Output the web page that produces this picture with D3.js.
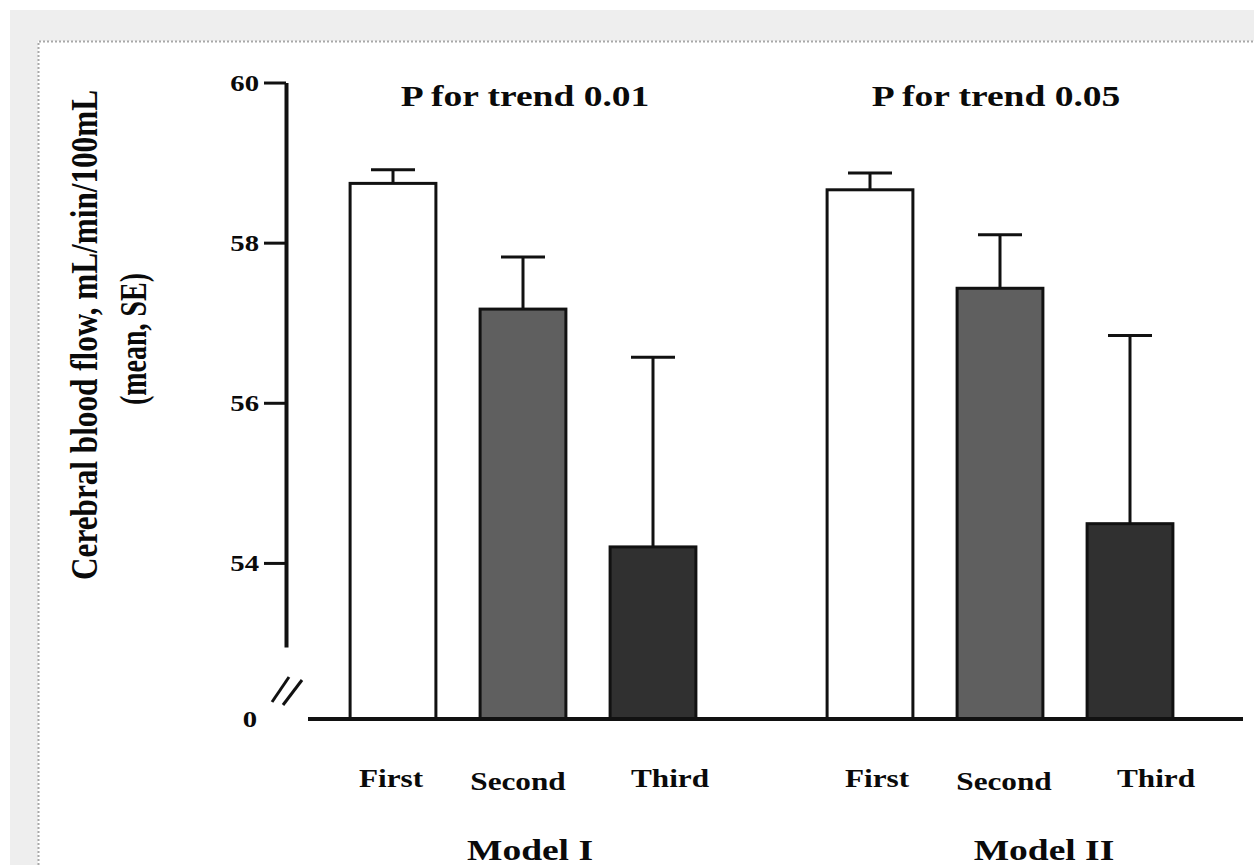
<!DOCTYPE html>
<html>
<head>
<meta charset="utf-8">
<script src="https://cdn.jsdelivr.net/npm/d3@7"></script>
<style>
    body { margin: 0; background: #fff; }
    svg { display: block; }
    text { font-family: 'Liberation Serif', 'Times New Roman', serif; font-weight: bold; fill: #0a0a0a; }
</style>
</head>
<body>
<svg></svg>
<script>
/** Chart values */
const models = ['Model I', 'Model II'];
const tiers = ['First', 'Second', 'Third'];
const meanModel1 = [58.74, 57.17, 54.20];
const seModel1 = [0.17, 0.65, 2.37];
const meanModel2 = [58.66, 57.43, 54.49];
const seModel2 = [0.21, 0.67, 2.35];
const trendLabels = ['P for trend 0.01', 'P for trend 0.05'];
const yTicks = [54, 56, 58, 60];
const yTitle = ['Cerebral blood flow, mL/min/100mL', '(mean, SE)'];

let width = 1254;
let height = 865;
let axisX = 286;   // y axis line
let baseY = 719;   // broken baseline ("0")
let stretch = 1.25; // the source image is widened horizontally

const tierFill = ['#ffffff', '#5f5f5f', '#303030'];

let svg = d3.select('svg').attr('width', width).attr('height', height);

/** Grey page + dotted panel */
const drawBackdrop = () => {
    svg.append('rect').attr('x', 10).attr('y', 10)
        .attr('width', width).attr('height', height).attr('fill', '#eeeeee');
    svg.append('rect').attr('x', 38).attr('y', 41)
        .attr('width', width).attr('height', height).attr('fill', '#ffffff');
    svg.append('path')
        .attr('d', `M38.5,${height}V41.5H${width}`)
        .attr('fill', 'none')
        .attr('stroke', '#a8a8a8')
        .attr('stroke-width', 2)
        .attr('stroke-dasharray', '2,2');
};

/** Scales */
let yScale = d3.scaleLinear().domain([52.95, 60]).range([647, 82.5]);
let xModel = d3.scalePoint().domain(models).range([523, 1000]);
let xTier = d3.scaleBand().domain(tiers).range([-195, 195])
                .paddingInner(0.34).paddingOuter(0.17);

const meanSets = [meanModel1, meanModel2];
const seSets = [seModel1, seModel2];
const rows = models.flatMap((m, i) => tiers.map((t, j) => ({
    model: m, tier: t, mean: meanSets[i][j], se: seSets[i][j], fill: tierFill[j]
})));

/** Bars + SE whiskers */
const drawBars = () => {
    let bw = xTier.bandwidth();

    svg.selectAll('rect.bar')
        .data(rows)
        .enter()
        .append('rect')
        .attr('class', 'bar')
        .attr('x', d => xModel(d.model) + xTier(d.tier))
        .attr('y', d => yScale(d.mean))
        .attr('width', bw)
        .attr('height', d => baseY - yScale(d.mean))
        .attr('fill', d => d.fill)
        .attr('stroke', '#111')
        .attr('stroke-width', 3);

    let err = svg.selectAll('g.err')
        .data(rows)
        .enter()
        .append('g')
        .attr('class', 'err')
        .attr('stroke', '#111')
        .attr('stroke-width', 3);

    err.append('line')
        .attr('x1', d => xModel(d.model) + xTier(d.tier) + bw / 2)
        .attr('x2', d => xModel(d.model) + xTier(d.tier) + bw / 2)
        .attr('y1', d => yScale(d.mean))
        .attr('y2', d => yScale(d.mean + d.se));

    err.append('line')
        .attr('x1', d => xModel(d.model) + xTier(d.tier) + bw / 2 - 22)
        .attr('x2', d => xModel(d.model) + xTier(d.tier) + bw / 2 + 22)
        .attr('y1', d => yScale(d.mean + d.se))
        .attr('y2', d => yScale(d.mean + d.se));
};

/** Axes, break marks, baseline */
const drawAxes = () => {
    let yAxis = d3.axisLeft(yScale)
                    .tickValues(yTicks)
                    .tickFormat(d3.format('d'))
                    .tickSize(22)
                    .tickSizeOuter(0);

    let gy = svg.append('g')
        .attr('transform', `translate(${axisX}, 0)`)
        .call(yAxis);

    gy.select('.domain').attr('stroke', '#111').attr('stroke-width', 4);
    gy.selectAll('.tick line').attr('stroke', '#111').attr('stroke-width', 3);
    gy.selectAll('.tick text')
        .attr('x', 0)
        .attr('dy', '0.35em')
        .attr('font-size', 23)
        .attr('transform', `translate(-27, 0) scale(${stretch}, 1)`);

    // "0" at the broken baseline
    svg.append('text')
        .attr('text-anchor', 'end')
        .attr('dy', '0.35em')
        .attr('font-size', 23)
        .attr('transform', `translate(${axisX - 29}, ${baseY}) scale(${stretch}, 1)`)
        .text('0');

    // axis break "//"
    [[-14, -17, 3, -42], [-3, -14, 16, -39]].forEach(s => {
        svg.append('line')
            .attr('x1', axisX + s[0]).attr('y1', baseY + s[1])
            .attr('x2', axisX + s[2]).attr('y2', baseY + s[3])
            .attr('stroke', '#111').attr('stroke-width', 3);
    });

    svg.append('line')
        .attr('x1', axisX + 22).attr('x2', width - 11)
        .attr('y1', baseY).attr('y2', baseY)
        .attr('stroke', '#111').attr('stroke-width', 4);
};

/** Texts */
const drawLabels = () => {
    let modelShift = [-4.5, 4.5];
    let tierShift = [2.5, -0.5, 21.5];
    let tierBase = [787, 790, 787];

    models.forEach((m, i) => {
        tiers.forEach((t, j) => {
            svg.append('text')
                .attr('text-anchor', 'middle')
                .attr('font-size', 25)
                .attr('transform', `translate(${xModel(m) + xTier(t) + xTier.bandwidth() / 2 + modelShift[i] + tierShift[j]}, ${tierBase[j]}) scale(${stretch}, 1)`)
                .text(t);
        });

        svg.append('text')
            .attr('text-anchor', 'middle')
            .attr('font-size', 30)
            .attr('transform', `translate(${xModel(m) + [7, 44][i]}, 860) scale(${stretch}, 1)`)
            .text(m);

        svg.append('text')
            .attr('text-anchor', 'middle')
            .attr('font-size', 30)
            .attr('transform', `translate(${xModel(m) + [2, -4][i]}, 106) scale(${stretch}, 1)`)
            .text(trendLabels[i]);
    });

    svg.append('text')
        .attr('text-anchor', 'middle')
        .attr('font-size', 31)
        .attr('textLength', 490)
        .attr('lengthAdjust', 'spacingAndGlyphs')
        .attr('transform', `translate(97, 335) rotate(-90) scale(1, ${stretch})`)
        .text(yTitle[0]);

    svg.append('text')
        .attr('text-anchor', 'middle')
        .attr('font-size', 31)
        .attr('textLength', 132)
        .attr('lengthAdjust', 'spacingAndGlyphs')
        .attr('transform', `translate(146, 339) rotate(-90) scale(1, ${stretch})`)
        .text(yTitle[1]);
};

drawBackdrop();
drawBars();
drawAxes();
drawLabels();
</script>
</body>
</html>
